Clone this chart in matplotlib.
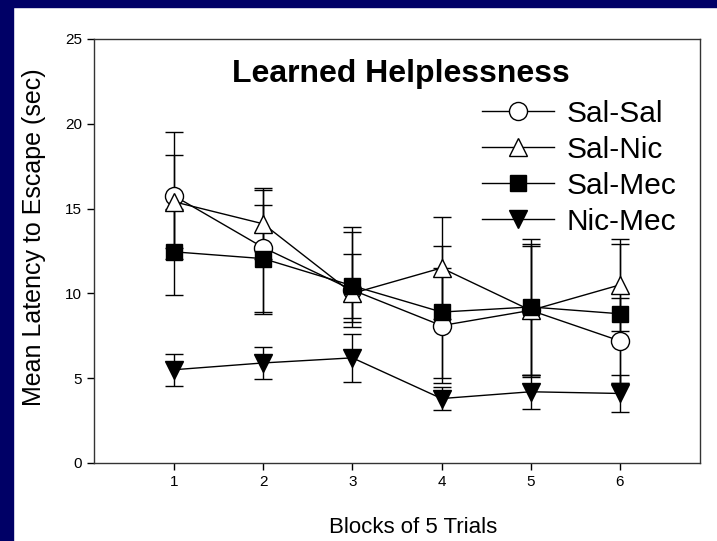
import matplotlib.pyplot as plt
import matplotlib.patches as mpatches
import numpy as np

plt.rcParams['font.family'] = ['Liberation Sans', 'DejaVu Sans']

blocks = [1, 2, 3, 4, 5, 6]
groups = ['Sal-Sal', 'Sal-Nic', 'Sal-Mec', 'Nic-Mec']

sal_sal = [15.75, 12.7, 10.2, 8.1, 9.0, 7.2]
sal_nic = [15.4, 14.1, 10.0, 11.5, 9.0, 10.5]
sal_mec = [12.45, 12.05, 10.45, 8.9, 9.2, 8.8]
nic_mec = [5.5, 5.9, 6.2, 3.8, 4.2, 4.1]

# lower / upper error lengths
sal_sal_lo = [3.75, 3.9, 1.9, 3.4, 3.8, 2.5]
sal_sal_hi = [3.75, 3.4, 3.4, 3.4, 3.8, 2.5]
sal_nic_lo = [2.75, 2.1, 2.0, 3.0, 3.9, 2.7]
sal_nic_hi = [2.75, 2.1, 3.9, 3.0, 3.9, 2.7]
sal_mec_lo = [2.55, 3.15, 1.9, 3.9, 4.0, 4.1]
sal_mec_hi = [2.55, 3.15, 1.9, 3.9, 4.0, 4.1]
nic_mec_lo = [0.95, 0.95, 1.4, 0.7, 1.0, 1.1]
nic_mec_hi = [0.95, 0.95, 1.4, 0.7, 1.0, 1.1]

fig = plt.figure(figsize=(7.17, 5.41), dpi=100)
fig.patch.set_facecolor('white')
navy = '#000066'
fig.add_artist(mpatches.Rectangle((0, 1 - 7 / 541), 1, 7 / 541, transform=fig.transFigure,
                                  color=navy, zorder=0))
fig.add_artist(mpatches.Rectangle((0, 0), 13 / 717, 1, transform=fig.transFigure,
                                  color=navy, zorder=0))

ax = fig.add_axes([94 / 717, 1 - 463 / 541, (700 - 94) / 717, (463 - 39) / 541])

series = [
    (sal_sal, sal_sal_lo, sal_sal_hi, 'o', 'white', 13),
    (sal_nic, sal_nic_lo, sal_nic_hi, '^', 'white', 13),
    (sal_mec, sal_mec_lo, sal_mec_hi, 's', 'black', 12),
    (nic_mec, nic_mec_lo, nic_mec_hi, 'v', 'black', 13),
]
for name, (y, lo, hi, m, fc, ms) in zip(groups, series):
    ax.errorbar(blocks, y, yerr=[lo, hi], fmt='none', ecolor='black',
                elinewidth=1, capsize=6.5, capthick=1, zorder=2)
    ax.plot(blocks, y, color='black', lw=1, marker=m, markersize=ms,
            markerfacecolor=fc, markeredgecolor='black', markeredgewidth=1,
            label=name, zorder=3)

ax.set_xlim(0.1, 6.9)
ax.set_ylim(0, 25)
ax.set_xticks(blocks)
ax.set_yticks([0, 5, 10, 15, 20, 25])
ax.tick_params(direction='out', length=5, width=1, labelsize=11, top=False, right=False)
for s in ax.spines.values():
    s.set_linewidth(1)
    s.set_color('#333333')

ax.set_ylabel('Mean Latency to Escape (sec)', fontsize=18)
ax.yaxis.set_label_coords(-0.079, 0.533)
ax.set_xlabel('Blocks of 5 Trials', fontsize=16)
ax.xaxis.set_label_coords(0.526, -0.128)

ax.text(0.507, 0.917, 'Learned Helplessness', transform=ax.transAxes,
        fontsize=23, fontweight='bold', ha='center', va='center')

ax.legend(loc='upper left', bbox_to_anchor=(0.640, 0.857), frameon=False,
          fontsize=21.5, handlelength=2.4, handletextpad=0.45, labelspacing=0.27,
          borderaxespad=0, borderpad=0)

fig.savefig('out.png', dpi=100, facecolor='white')
